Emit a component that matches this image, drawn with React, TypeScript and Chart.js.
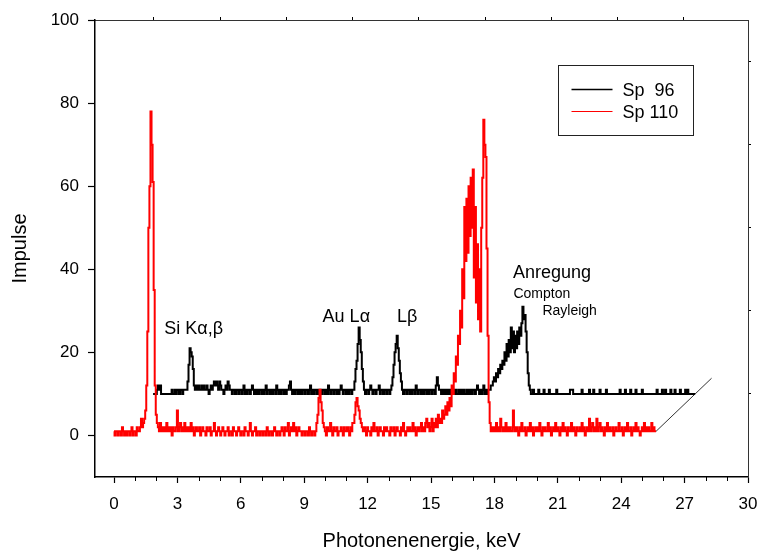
import React, { useEffect, useRef } from 'react';
import { Chart, registerables } from 'chart.js';

Chart.register(...registerables);

const FONT = '"Liberation Sans", Arial, Helvetica, sans-serif';

// Detector channel width and the waterfall offset of the back spectrum (Sp 96)
const CHANNEL_KEV = 0.05;
const SP96_SHIFT_KEV = 1.85;
const SP96_SHIFT_COUNTS = 10;
// the depth axis runs from the front spectrum's end through the back spectrum's end
const DEPTH_EXTEND = 1.42;

// Sp 110 counts per channel (0.05 keV), 0 - 25.65 keV
const SP110_A = [
  1, 0, 1, 1, 0, 1, 1, 0, 2, 1, 0, 1, 0, 1, 1, 0, 1, 2, 0, 1,
  1, 0, 2, 1, 1, 2, 4, 2, 3, 4, 6, 12, 25, 50, 60, 78, 70, 61, 35, 12,
  5, 3, 2, 1, 3, 1, 2, 1, 2, 1, 3, 1, 2, 1, 2, 0, 2, 1, 1, 2,
  6, 1, 2, 3, 1, 2, 1, 3, 1, 2, 1, 2, 1, 3, 1, 2, 0, 1, 2, 1,
  1, 2, 0, 1, 2, 1, 1, 0, 2, 1, 1, 2, 0, 1, 1, 3, 1, 0, 1, 2,
];
const SP110_B = [
  1, 0, 1, 2, 1, 0, 1, 1, 2, 0, 1, 1, 0, 2, 1, 1, 0, 1, 2, 1,
  0, 1, 1, 0, 2, 1, 1, 0, 1, 3, 1, 0, 1, 1, 2, 0, 1, 1, 0, 1,
  1, 0, 1, 1, 0, 2, 1, 0, 1, 1, 0, 1, 2, 1, 0, 1, 1, 0, 1, 2,
  1, 0, 2, 1, 1, 3, 0, 1, 2, 1, 3, 1, 2, 0, 1, 2, 1, 1, 0, 1,
  1, 0, 1, 1, 0, 2, 1, 0, 1, 1, 0, 1, 3, 5, 9, 11, 8, 6, 3, 2,
];
const SP110_C = [
  1, 0, 2, 1, 1, 3, 1, 0, 2, 1, 1, 2, 0, 1, 1, 2, 1, 0, 2, 1,
  1, 2, 1, 0, 2, 1, 3, 3, 5, 8, 9, 7, 6, 4, 3, 2, 1, 2, 1, 0,
  2, 1, 1, 0, 2, 1, 3, 1, 1, 2, 0, 1, 2, 1, 1, 0, 2, 1, 2, 1,
  1, 0, 2, 1, 1, 2, 0, 1, 2, 1, 1, 0, 2, 1, 3, 1, 0, 1, 2, 1,
  2, 1, 1, 3, 1, 2, 0, 1, 2, 1, 2, 3, 1, 2, 1, 3, 4, 2, 3, 1,
];
const SP110_D = [
  2, 4, 1, 3, 2, 4, 2, 5, 3, 4, 3, 6, 4, 5, 7, 5, 8, 6, 9, 7,
  12, 10, 15, 13, 19, 17, 24, 22, 30, 26, 40, 33, 55, 42, 57, 44, 60, 48, 62, 50,
  64, 38, 55, 32, 46, 28, 40, 25, 50, 62, 76, 70, 67, 45, 24, 8, 3, 1, 2, 1,
  2, 1, 3, 1, 2, 1, 4, 2, 1, 2, 1, 3, 1, 2, 1, 2, 1, 1, 6, 2,
  1, 2, 1, 0, 2, 1, 3, 1, 1, 2, 0, 1, 2, 1, 3, 1, 2, 0, 1, 2,
];
const SP110_E = [
  1, 2, 1, 3, 1, 0, 2, 1, 2, 1, 1, 3, 1, 2, 0, 1, 2, 1, 3, 1,
  2, 1, 0, 2, 1, 3, 1, 2, 1, 0, 2, 1, 1, 3, 1, 2, 1, 0, 2, 1,
  1, 2, 1, 3, 1, 2, 0, 1, 2, 1, 4, 1, 2, 3, 1, 2, 1, 4, 1, 2,
  3, 1, 2, 1, 0, 2, 1, 3, 1, 2, 1, 1, 2, 0, 1, 2, 1, 1, 3, 1,
  1, 2, 0, 1, 2, 1, 3, 1, 1, 2, 0, 1, 2, 1, 3, 1, 2, 1, 0, 1,
  2, 1, 3, 1, 2, 1, 2, 1, 1, 3, 1, 2, 1, 1,
];

// Sp 96 counts per channel (0.05 keV), 0 - 25.65 keV
const SP96_A = [
  0, 0, 0, 0, 1, 2, 1, 2, 0, 0, 0, 0, 0, 0, 0, 0, 0, 0, 1, 0,
  0, 1, 0, 1, 1, 0, 1, 1, 0, 1, 1, 1, 1, 3, 7, 11, 10, 9, 6, 2,
  1, 2, 1, 2, 1, 1, 2, 1, 2, 1, 1, 2, 1, 0, 1, 2, 1, 2, 3, 2,
  3, 2, 1, 3, 2, 1, 1, 0, 1, 2, 1, 3, 2, 1, 1, 0, 1, 1, 0, 1,
  1, 0, 1, 1, 0, 1, 2, 0, 1, 0, 1, 1, 0, 1, 2, 1, 0, 1, 0, 1,
];
const SP96_B = [
  0, 1, 1, 0, 1, 0, 1, 2, 0, 1, 1, 0, 1, 0, 1, 1, 0, 2, 1, 0,
  1, 0, 1, 1, 0, 1, 0, 1, 1, 2, 3, 1, 0, 1, 0, 1, 1, 0, 1, 0,
  1, 0, 1, 1, 0, 1, 1, 0, 1, 2, 0, 1, 0, 1, 1, 0, 1, 0, 1, 1,
  0, 1, 1, 0, 1, 0, 2, 1, 0, 1, 1, 0, 1, 1, 0, 1, 0, 1, 2, 1,
  0, 1, 1, 0, 1, 0, 1, 1, 0, 1, 1, 3, 6, 8, 12, 16, 13, 10, 6, 3,
];
const SP96_C = [
  1, 0, 1, 1, 0, 1, 2, 1, 0, 1, 1, 0, 1, 1, 2, 0, 1, 1, 0, 1,
  1, 0, 1, 1, 0, 1, 2, 4, 7, 10, 12, 14, 11, 8, 5, 3, 1, 0, 1, 1,
  0, 1, 1, 0, 1, 0, 1, 1, 0, 2, 1, 0, 1, 1, 0, 1, 0, 1, 1, 0,
  1, 0, 1, 1, 0, 1, 1, 0, 2, 4, 2, 1, 1, 0, 1, 0, 1, 0, 1, 0,
  1, 0, 1, 0, 0, 1, 0, 1, 0, 0, 1, 0, 1, 0, 1, 0, 0, 1, 0, 1,
];
const SP96_D = [
  0, 1, 0, 1, 1, 0, 1, 2, 1, 0, 1, 0, 1, 2, 0, 1, 0, 1, 1, 1,
  2, 2, 3, 4, 3, 5, 4, 6, 5, 7, 6, 8, 7, 10, 8, 12, 9, 13, 10, 16,
  11, 15, 10, 14, 11, 15, 12, 16, 14, 17, 21, 18, 19, 15, 10, 5, 2, 1, 0, 0,
  1, 0, 0, 0, 0, 1, 0, 0, 0, 0, 1, 0, 0, 0, 0, 1, 0, 0, 0, 0,
  0, 0, 1, 0, 0, 0, 0, 0, 0, 0, 0, 0, 0, 0, 0, 1, 1, 1, 0, 0,
];
const SP96_E = [
  0, 0, 0, 0, 0, 0, 1, 0, 0, 0, 0, 0, 0, 1, 0, 0, 0, 1, 0, 0,
  0, 0, 0, 1, 0, 0, 0, 0, 0, 1, 0, 0, 0, 0, 0, 0, 0, 0, 0, 0,
  0, 0, 1, 0, 0, 0, 0, 1, 0, 0, 0, 0, 1, 0, 0, 0, 0, 1, 0, 0,
  0, 0, 0, 1, 0, 0, 0, 0, 0, 0, 0, 0, 0, 0, 0, 0, 0, 1, 0, 0,
  0, 0, 1, 0, 0, 1, 0, 0, 0, 0, 1, 0, 0, 0, 1, 0, 0, 0, 0, 1,
  0, 0, 0, 0, 1, 0, 1, 0, 0, 0, 0, 0, 0, 0,
];

const SERIES_LABELS = ['Sp  96', 'Sp 110'];

// Axes
const X_MIN = -0.9;
const X_MAX = 30;
const Y_MIN = -10;
const Y_MAX = 100;
const X_MAJOR_TICKS = [0, 3, 6, 9, 12, 15, 18, 21, 24, 27, 30];
const X_MINOR_TICKS = [1, 2, 4, 5, 7, 8, 10, 11, 13, 14, 16, 17, 19, 20, 22, 23, 25, 26, 28, 29];
const Y_TICKS = [0, 20, 40, 60, 80, 100];
const Y_RIGHT_TICKS = [10, 30, 50, 70, 90];
const TOP_MIN = 0.11;
const TOP_MAX = 9.97;
const TOP_TICKS = [1, 2, 3, 4, 5, 6, 7, 8, 9];

// Peak annotations (keV, Impulse of the text baseline start)
const PEAK_LABELS = [
  { text: 'Si K\u03b1,\u03b2', x: 2.38, y: 24.3, size: 18 },
  { text: 'Au L\u03b1', x: 9.87, y: 27.2, size: 18 },
  { text: 'L\u03b2', x: 13.39, y: 27.2, size: 18 },
  { text: 'Anregung', x: 18.88, y: 37.8, size: 18 },
  { text: 'Compton', x: 18.9, y: 33.2, size: 14 },
  { text: 'Rayleigh', x: 20.27, y: 28.9, size: 14 },
];

// Legend frame corners in data units
const LEGEND_BOX = { x0: 21.0, x1: 27.4, y0: 89.1, y1: 72.4 };

const overlayPlugin = {
  id: 'overlay',
  afterDraw(chart: any) {
    const { ctx, chartArea, scales } = chart;
    const x = scales.x;
    const y = scales.y;
    ctx.save();

    // minor ticks on the energy axis
    ctx.strokeStyle = '#000';
    ctx.lineWidth = 1;
    for (const v of X_MINOR_TICKS) {
      const px = Math.round(x.getPixelForValue(v)) + 0.5;
      ctx.beginPath();
      ctx.moveTo(px, chartArea.bottom);
      ctx.lineTo(px, chartArea.bottom + 4);
      ctx.stroke();
    }

    // peak labels
    ctx.fillStyle = '#000';
    ctx.textBaseline = 'alphabetic';
    ctx.textAlign = 'left';
    for (const a of PEAK_LABELS) {
      ctx.font = `${a.size}px ${FONT}`;
      ctx.fillText(a.text, x.getPixelForValue(a.x), y.getPixelForValue(a.y));
    }

    // legend
    const left = Math.round(x.getPixelForValue(LEGEND_BOX.x0)) + 0.5;
    const right = Math.round(x.getPixelForValue(LEGEND_BOX.x1)) + 0.5;
    const top = Math.round(y.getPixelForValue(LEGEND_BOX.y0)) + 0.5;
    const bottom = Math.round(y.getPixelForValue(LEGEND_BOX.y1)) + 0.5;
    ctx.fillStyle = '#fff';
    ctx.fillRect(left, top, right - left, bottom - top);
    ctx.strokeStyle = '#222';
    ctx.lineWidth = 1;
    ctx.strokeRect(left, top, right - left, bottom - top);
    const series = chart.data.datasets.filter((d: any) => SERIES_LABELS.includes(d.label));
    series.sort((a: any, b: any) => SERIES_LABELS.indexOf(a.label) - SERIES_LABELS.indexOf(b.label));
    ctx.font = `18px ${FONT}`;
    series.forEach((d: any, i: number) => {
      const rowY = top + 24 + i * 22;
      ctx.strokeStyle = d.borderColor;
      ctx.lineWidth = i === 0 ? 1.5 : 1;
      ctx.beginPath();
      ctx.moveTo(left + 13, rowY);
      ctx.lineTo(left + 54, rowY);
      ctx.stroke();
      ctx.fillStyle = '#000';
      ctx.fillText(d.label, left + 64, rowY + 6.5);
    });

    ctx.restore();
  },
};

// fixed axis box size, without the extra room Chart.js keeps for overhanging labels
const fixBox = (w: number | null, h: number | null) => (s: any) => {
  if (w !== null) s.width = w;
  if (h !== null) s.height = h;
  s.paddingLeft = 0;
  s.paddingRight = 0;
  s.paddingTop = 0;
  s.paddingBottom = 0;
};

export default function App() {
  const canvasRef = useRef<HTMLCanvasElement>(null);

  useEffect(() => {
    const canvas = canvasRef.current;
    if (!canvas) return;

    const sp110 = [...SP110_A, ...SP110_B, ...SP110_C, ...SP110_D, ...SP110_E];
    const sp96 = [...SP96_A, ...SP96_B, ...SP96_C, ...SP96_D, ...SP96_E];

    const front = sp110.map((c, i) => ({ x: i * CHANNEL_KEV, y: c }));
    const back = sp96.map((c, i) => ({
      x: i * CHANNEL_KEV + SP96_SHIFT_KEV,
      y: c + SP96_SHIFT_COUNTS,
    }));
    const fEnd = front[front.length - 1];
    const bEnd = back[back.length - 1];
    const depthAxis = [
      fEnd,
      {
        x: fEnd.x + DEPTH_EXTEND * (bEnd.x - fEnd.x),
        y: fEnd.y + DEPTH_EXTEND * (bEnd.y - fEnd.y),
      },
    ];

    const baseGrid = { drawOnChartArea: false, drawTicks: true, color: '#000' };

    const chart = new Chart(canvas, {
      type: 'line',
      data: {
        datasets: [
          {
            label: SERIES_LABELS[0],
            data: back,
            borderColor: '#000000',
            borderWidth: 2,
            pointRadius: 0,
            stepped: 'middle',
            order: 2,
          },
          {
            label: SERIES_LABELS[1],
            data: front,
            borderColor: '#ff0000',
            borderWidth: 2,
            pointRadius: 0,
            stepped: 'middle',
            order: 1,
          },
          {
            label: 'depth',
            data: depthAxis,
            borderColor: '#333333',
            borderWidth: 1,
            pointRadius: 0,
            tension: 0,
            order: 3,
          },
        ],
      },
      options: {
        animation: false,
        responsive: false,
        maintainAspectRatio: false,
        layout: { padding: 0 },
        plugins: {
          legend: { display: false },
          tooltip: { enabled: false },
        },
        scales: {
          x: {
            type: 'linear',
            position: 'bottom',
            min: X_MIN,
            max: X_MAX,
            afterFit: fixBox(null, 76),
            afterBuildTicks: (s: any) => { s.ticks = X_MAJOR_TICKS.map((v) => ({ value: v })); },
            ticks: {
              autoSkip: false,
              maxRotation: 0,
              padding: 11,
              color: '#000',
              font: { size: 17, family: FONT },
              callback: (v: any) => String(v),
            },
            grid: { ...baseGrid, tickLength: 6, tickWidth: 1.2 },
            border: { display: true, color: '#000', width: 1.5 },
            title: {
              display: true,
              text: 'Photonenenergie, keV',
              color: '#000',
              font: { size: 20, family: FONT },
              padding: 0,
            },
          },
          xTop: {
            type: 'linear',
            position: 'top',
            min: TOP_MIN,
            max: TOP_MAX,
            afterFit: fixBox(null, 20),
            afterBuildTicks: (s: any) => { s.ticks = TOP_TICKS.map((v) => ({ value: v })); },
            ticks: { display: false },
            grid: { ...baseGrid, tickLength: 3, tickWidth: 1 },
            border: { display: true, color: '#333', width: 1 },
          },
          y: {
            type: 'linear',
            position: 'left',
            min: Y_MIN,
            max: Y_MAX,
            afterFit: fixBox(95, null),
            afterBuildTicks: (s: any) => { s.ticks = Y_TICKS.map((v) => ({ value: v })); },
            ticks: {
              padding: 9,
              color: '#000',
              font: { size: 17, family: FONT },
              callback: (v: any) => String(v),
            },
            grid: { ...baseGrid, tickLength: 7, tickWidth: 1.2 },
            border: { display: true, color: '#000', width: 1.5 },
            title: {
              display: true,
              text: 'Impulse',
              color: '#000',
              font: { size: 20, family: FONT },
              padding: { top: 8, bottom: 0 },
            },
          },
          yRight: {
            type: 'linear',
            position: 'right',
            min: Y_MIN,
            max: Y_MAX,
            afterFit: fixBox(10, null),
            afterBuildTicks: (s: any) => { s.ticks = Y_RIGHT_TICKS.map((v) => ({ value: v })); },
            ticks: { display: false },
            grid: { ...baseGrid, tickLength: 3, tickWidth: 1 },
            border: { display: true, color: '#333', width: 1 },
          },
        },
      },
      plugins: [overlayPlugin],
    });

    return () => chart.destroy();
  }, []);

  return (
    <div style={{ position: 'absolute', left: 0, top: 0, width: 758, height: 553, background: '#fff' }}>
      <canvas ref={canvasRef} width={758} height={553} style={{ display: 'block' }} />
    </div>
  );
}
